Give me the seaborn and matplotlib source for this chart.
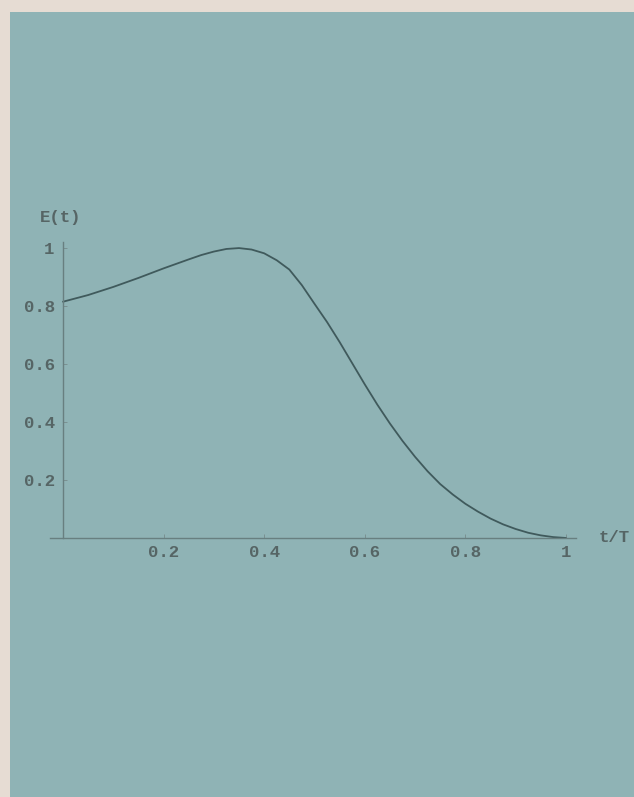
import numpy as np
import seaborn as sns
import matplotlib.pyplot as plt
import pandas as pd
from matplotlib.patches import Rectangle

# values
t = [0.0, 0.05, 0.1, 0.15, 0.2, 0.25, 0.275, 0.3, 0.325, 0.35, 0.375, 0.4,
     0.425, 0.45, 0.475, 0.5, 0.525, 0.55, 0.575, 0.6, 0.625, 0.65, 0.675,
     0.7, 0.725, 0.75, 0.775, 0.8, 0.825, 0.85, 0.875, 0.9, 0.925, 0.95,
     0.975, 1.0]
E = [0.815, 0.838, 0.866, 0.897, 0.930, 0.961, 0.976, 0.988, 0.997, 1.0,
     0.995, 0.982, 0.958, 0.926, 0.872, 0.808, 0.745, 0.676, 0.603, 0.530,
     0.460, 0.395, 0.335, 0.280, 0.230, 0.186, 0.150, 0.118, 0.091, 0.067,
     0.047, 0.031, 0.018, 0.009, 0.003, 0.0]
xticks = [0.2, 0.4, 0.6, 0.8, 1]
xlabels = ['0.2', '0.4', '0.6', '0.8', '1']
yticks = [0.2, 0.4, 0.6, 0.8, 1]
ylabels = ['0.2', '0.4', '0.6', '0.8', '1']

df = pd.DataFrame({'t': t, 'E': E})

sns.set_theme(style='white')
plt.rcParams['font.family'] = ['Liberation Mono', 'DejaVu Sans Mono']

bg = '#8fb3b5'
ink = '#566565'

fig = plt.figure(figsize=(6.34, 7.97), dpi=100)
fig.patch.set_facecolor('#e6dcd3')
fig.patches.append(Rectangle((10 / 634, 0), 1, 1 - 12 / 797, transform=fig.transFigure,
                             facecolor=bg, edgecolor='none', zorder=-5))

ax = fig.add_axes([0.0795, 0.325, 0.829, 0.371])
ax.set_facecolor('none')
sns.lineplot(data=df, x='t', y='E', ax=ax, color='#405a5c', linewidth=1.3)

ax.set_xlim(-0.025, 1.02)
ax.set_ylim(0, 1.02)
for s in ['top', 'right']:
    ax.spines[s].set_visible(False)
ax.spines['left'].set_position(('data', 0))
ax.spines['bottom'].set_position(('data', 0))
for s in ['left', 'bottom']:
    ax.spines[s].set_color('#687f80')
    ax.spines[s].set_linewidth(1.0)

ax.set_xticks(xticks, xlabels)
ax.set_yticks(yticks, ylabels)
ax.tick_params(direction='in', length=3, width=0.7, color='#7a9091',
               labelcolor=ink, labelsize=12.5, left=True, bottom=True)
for lab in ax.get_xticklabels() + ax.get_yticklabels():
    lab.set_fontweight('bold')
ax.tick_params(axis='x', pad=5)
ax.tick_params(axis='y', pad=6)
ax.set_xlabel('')
ax.set_ylabel('')

ax.text(-0.005, 1.105, 'E(t)', ha='center', va='center', color=ink, fontsize=12.5,
        fontweight='bold')
ax.text(1.065, 0.0, 't/T', ha='left', va='center', color=ink, fontsize=12.5,
        fontweight='bold', clip_on=False)

fig.savefig('out.png', dpi=100, facecolor=fig.get_facecolor())
